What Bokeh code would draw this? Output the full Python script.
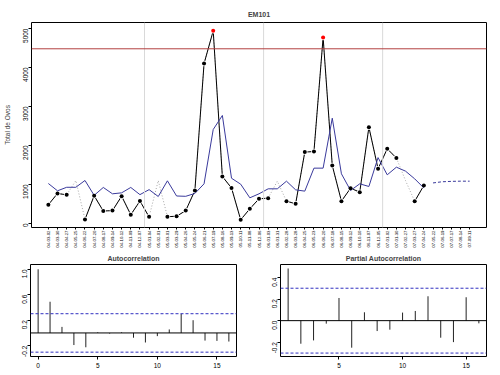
import numpy as np
from bokeh.plotting import figure
from bokeh.models import Span, FixedTicker
from bokeh.layouts import column, row
from bokeh.embed import file_html
from bokeh.resources import INLINE

FONT = "Liberation Sans"

# ---------------- data ----------------
dates = ["04-03-02", "04-03-30", "04-04-27", "04-05-25", "04-06-22", "04-07-20", "04-08-17",
         "04-09-14", "04-10-12", "04-11-09", "04-12-07", "05-01-04", "05-02-01", "05-03-01",
         "05-03-29", "05-04-26", "05-05-24", "05-06-21", "05-07-19", "05-08-16", "05-09-13",
         "05-10-11", "05-11-08", "05-12-06", "06-01-03", "06-01-31", "06-02-28", "06-03-28",
         "06-04-25", "06-05-23", "06-06-20", "06-07-18", "06-08-15", "06-09-12", "06-10-10",
         "06-11-07", "06-12-05", "07-01-02", "07-01-30", "07-02-27", "07-03-27", "07-04-24",
         "07-05-22", "07-06-19", "07-07-17", "07-08-14", "07-09-11"]

observed = [480, 770, 735, None, 105, 710, 320, 330, 700, 225,
            575, 170, None, 175, 185, 330, 845, 4100, 4940, 1205,
            910, 95, 377, 633, 650, None, 573, 504, 1830, 1846,
            4770, 1487, 573, 905, 803, 2470, 1402, 1915, 1680, None,
            570, 974]
imputed = {3: 1100, 12: 1100, 25: 1085, 39: 1100}

fitted = [1025, 838, 928, 928, 1103, 722, 924, 761, 786, 924,
          740, 868, 692, 1094, 705, 697, 770, 1017, 2410, 2770,
          1160, 1008, 658, 761, 889, 889, 1085, 863, 829, 1419,
          1419, 2700, 1274, 846, 1017, 949, 1690, 1248, 1444, 1342,
          1145, 910]
forecast = [1040, 1070, 1080, 1085, 1085]

threshold = 4480
year_breaks = [10.5, 23.5, 36.5]
y_ticks = [0, 1000, 2000, 3000, 4000, 5000]

acf_lags = list(range(17))
acf_vals = [1.0, 0.49, 0.095, -0.19, -0.225, 0.01, -0.01, 0.01, -0.075, -0.15,
            -0.05, 0.055, 0.30, 0.20, -0.12, -0.125, -0.135]
pacf_lags = list(range(1, 17))
pacf_vals = [0.486, -0.215, -0.184, -0.028, 0.211, -0.252, 0.078, -0.097,
             -0.084, 0.075, 0.09, 0.227, -0.159, -0.2, 0.218, -0.025]
conf_limit = 0.302

acf_yticks = [-0.2, 0.2, 0.6, 1.0]
pacf_yticks = [-0.2, 0.0, 0.2, 0.4]

# ---------------- derived ----------------
n_obs = len(observed)
idx = np.arange(n_obs)
obs = np.array([np.nan if v is None else v for v in observed], dtype=float)
full = np.array([imputed[i] if v is None else v for i, v in enumerate(observed)], dtype=float)
valid = ~np.isnan(obs)
fc_idx = np.arange(n_obs, n_obs + len(forecast))
dot_colors = ["red" if v > threshold else "black" for v in obs[valid]]

BLUE = "#3a3a9c"


def style_axes(fig, size="6.5px"):
    fig.xgrid.visible = False
    fig.ygrid.visible = False
    fig.outline_line_color = "black"
    fig.outline_line_width = 1
    fig.background_fill_color = "white"
    fig.border_fill_color = "white"
    for ax in (fig.xaxis, fig.yaxis):
        ax.axis_line_color = None
        ax.major_tick_in = 0
        ax.major_tick_out = 3
        ax.minor_tick_line_color = None
        ax.major_label_text_font = FONT
        ax.major_label_text_font_size = size
        ax.major_label_text_color = "black"
        ax.major_tick_line_color = "black"
    fig.title.text_font = FONT
    fig.title.text_font_style = "bold"
    fig.title.align = "center"


# ---------------- main plot ----------------
p = figure(width=500, height=250, x_range=(-1.84, 47.84), y_range=(-103, 5154),
           title="EM101", output_backend="svg", toolbar_location=None,
           min_border_left=30, min_border_right=14, min_border_top=22, min_border_bottom=23)
style_axes(p)
p.title.text_font_size = "7px"
p.title.standoff = 9

p.xaxis.ticker = FixedTicker(ticks=list(range(len(dates))))
p.xaxis.major_label_overrides = {i: d for i, d in enumerate(dates)}
p.xaxis.major_label_orientation = np.pi / 2
p.xaxis.major_label_text_font_size = "4.3px"
p.xaxis.major_tick_out = 2
p.xaxis.major_label_standoff = 1

p.yaxis.ticker = FixedTicker(ticks=y_ticks)
p.yaxis.major_label_orientation = np.pi / 2
p.yaxis.major_label_standoff = 3
p.yaxis.axis_label = "Total de Ovos"
p.yaxis.axis_label_text_font = FONT
p.yaxis.axis_label_text_font_size = "6.5px"
p.yaxis.axis_label_text_font_style = "normal"
p.yaxis.axis_label_standoff = 7

for v in year_breaks:
    p.add_layout(Span(location=v, dimension="height", line_color="#d9d9d9", line_width=1))
p.add_layout(Span(location=threshold, dimension="width", line_color="#b34040", line_width=1))

p.line(idx, full, line_color="#a8a8a8", line_width=1, line_dash="1 2")
p.line(idx, obs, line_color="black", line_width=1)
p.scatter(idx[valid], obs[valid], size=5.5, fill_color="white", line_color=None)
p.line(idx, fitted, line_color=BLUE, line_width=1)
p.line(fc_idx, forecast, line_color=BLUE, line_width=1, line_dash="3 2")
p.scatter(idx[valid], obs[valid], size=4, fill_color=dot_colors, line_color=None)

# ---------------- ACF ----------------
pa = figure(width=250, height=125, x_range=(-0.64, 16.64), y_range=(-0.37, 1.075),
            title="Autocorrelation", output_backend="svg", toolbar_location=None,
            min_border_left=30, min_border_right=14, min_border_top=13, min_border_bottom=19)
style_axes(pa)
pa.title.text_font_size = "7px"
pa.title.standoff = 5
pa.xaxis.ticker = FixedTicker(ticks=[0, 5, 10, 15])
pa.xaxis.major_label_standoff = 3
pa.yaxis.ticker = FixedTicker(ticks=acf_yticks)
pa.yaxis.major_label_overrides = {t: f"{t:.1f}" for t in acf_yticks}
pa.yaxis.major_label_orientation = np.pi / 2
pa.yaxis.major_label_standoff = 3
pa.add_layout(Span(location=0, dimension="width", line_color="black", line_width=1))
for c in (conf_limit, -conf_limit):
    pa.add_layout(Span(location=c, dimension="width", line_color="#3030c0", line_width=1, line_dash="3 2"))
pa.segment(x0=acf_lags, y0=[0] * len(acf_lags), x1=acf_lags, y1=acf_vals, line_color="#222222", line_width=1)

# ---------------- PACF ----------------
pp = figure(width=250, height=125, x_range=(0.4, 16.6), y_range=(-0.334, 0.523),
            title="Partial Autocorrelation", output_backend="svg", toolbar_location=None,
            min_border_left=30, min_border_right=14, min_border_top=13, min_border_bottom=19)
style_axes(pp)
pp.title.text_font_size = "7px"
pp.title.standoff = 5
pp.xaxis.ticker = FixedTicker(ticks=[5, 10, 15])
pp.xaxis.major_label_standoff = 3
pp.yaxis.ticker = FixedTicker(ticks=pacf_yticks)
pp.yaxis.major_label_overrides = {t: f"{t:.1f}" for t in pacf_yticks}
pp.yaxis.major_label_orientation = np.pi / 2
pp.yaxis.major_label_standoff = 3
pp.add_layout(Span(location=0, dimension="width", line_color="black", line_width=1))
for c in (conf_limit, -conf_limit):
    pp.add_layout(Span(location=c, dimension="width", line_color="#3030c0", line_width=1, line_dash="3 2"))
pp.segment(x0=pacf_lags, y0=[0] * len(pacf_lags), x1=pacf_lags, y1=pacf_vals, line_color="#222222", line_width=1)

layout = column(p, row(pa, pp))
open("out.html", "w").write(file_html(layout, INLINE))
